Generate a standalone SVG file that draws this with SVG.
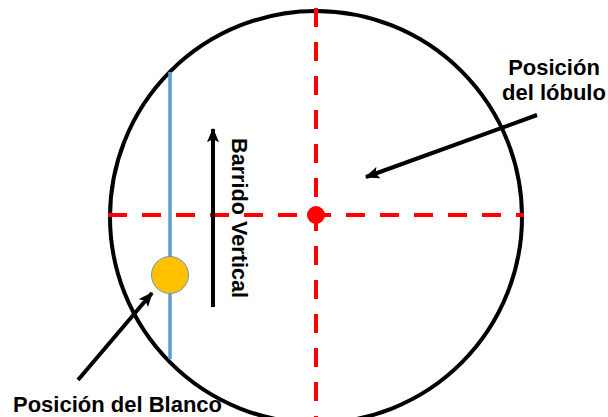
<svg xmlns="http://www.w3.org/2000/svg" width="608" height="417" viewBox="0 0 608 417">
<style>
.lbl{font-family:"Liberation Sans",Arial,sans-serif;font-weight:bold;font-size:22px;fill:#000}
.dash{stroke:#FF0000;stroke-width:4;stroke-dasharray:19 15;fill:none}
.arr{stroke:#000;stroke-width:4;fill:none;marker-end:url(#ah)}
</style>
<defs>
<marker id="ah" viewBox="0 0 12 10" refX="11" refY="5" markerWidth="3.6" markerHeight="3.2" orient="auto" markerUnits="strokeWidth">
<path d="M0,0 L12,5 L0,10 L2.5,5 Z" fill="#000"/>
</marker>
</defs>
<rect width="608" height="417" fill="#fff"/>
<g id="aperture">
<circle cx="316" cy="217" r="206" fill="none" stroke="#000" stroke-width="4"/>
</g>
<g id="axes">
<line class="dash" x1="316" y1="8" x2="316" y2="417"/>
<line class="dash" x1="108" y1="215" x2="524" y2="215"/>
</g>
<g id="scan-line">
<line x1="170" y1="72" x2="170" y2="359" stroke="#5B9BD5" stroke-width="3.5"/>
</g>
<g id="lobe-center">
<circle cx="316" cy="215" r="9" fill="#FF0000"/>
</g>
<g id="target">
<circle cx="170" cy="275" r="18.5" fill="#FFC000" stroke="#7a93ad" stroke-width="1"/>
</g>
<g id="connectors">
<line class="arr" x1="213" y1="307" x2="213" y2="129"/>
<line class="arr" x1="537" y1="115" x2="366" y2="177"/>
<line class="arr" x1="78" y1="380" x2="152" y2="293"/>
</g>
<g id="label-sweep">
<text class="lbl" transform="translate(232,138) rotate(90)" textLength="160" lengthAdjust="spacingAndGlyphs">Barrido Vertical</text>
</g>
<g id="label-lobe">
<text class="lbl" x="554" y="75" text-anchor="middle">Posición</text>
<text class="lbl" x="554" y="100" text-anchor="middle">del lóbulo</text>
</g>
<g id="label-target">
<text class="lbl" x="13" y="412">Posición del Blanco</text>
</g>
</svg>
